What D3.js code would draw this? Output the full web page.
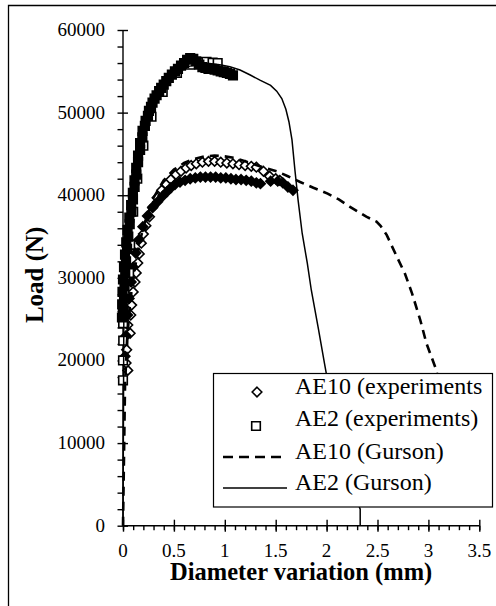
<!DOCTYPE html>
<html>
<head>
<meta charset="utf-8">
<script src="https://cdn.jsdelivr.net/npm/d3@7/dist/d3.min.js"></script>
<style>body { margin: 0; background: #fff; }</style>
</head>
<body>
<svg id="chart" width="496" height="606"></svg>
<script>
// Axis ticks
const xTickValues = [0, 0.5, 1, 1.5, 2, 2.5, 3, 3.5];
const xTickLabels = ["0", "0.5", "1", "1.5", "2", "2.5", "3", "3.5"];
const yTickValues = [0, 10000, 20000, 30000, 40000, 50000, 60000];
const yTickLabels = ["0", "10000", "20000", "30000", "40000", "50000", "60000"];

// Legend entries
const legendLabels = ["AE10 (experiments", "AE2 (experiments)", "AE10 (Gurson)", "AE2 (Gurson)"];

// AE10 specimen, open diamonds: [diameter variation (mm), load (N)]
const ae10ExpOpen = [
  [0.047, 18800], [0.030, 19700], [0.036, 21300], [0.070, 23300], [0.047, 24300],
  [0.076, 25500], [0.085, 26700], [0.100, 28300], [0.118, 29500], [0.130, 30600],
  [0.145, 31800], [0.160, 32900], [0.180, 34200], [0.200, 35300], [0.225, 36300],
  [0.260, 37400], [0.295, 38600], [0.335, 39700], [0.380, 40600], [0.425, 41300],
  [0.470, 41900], [0.520, 42500], [0.570, 42900], [0.620, 43300], [0.670, 43600],
  [0.720, 43800], [0.780, 44000], [0.840, 44100], [0.900, 44100], [0.960, 44000],
  [1.020, 43900], [1.080, 43800], [1.140, 43700], [1.200, 43600], [1.260, 43500],
  [1.310, 43400], [1.380, 42900], [1.440, 42300], [1.500, 42000], [1.540, 41800]
];

// AE10 specimen, filled diamonds
const ae10ExpFilled = [
  [0.020, 20500], [0.030, 23000], [0.045, 25500], [0.060, 27500], [0.080, 29500],
  [0.100, 31300], [0.125, 33000], [0.155, 34600], [0.195, 36200], [0.240, 37500],
  [0.290, 38500], [0.340, 39200], [0.390, 39900], [0.430, 40400], [0.470, 40900],
  [0.510, 41300], [0.560, 41600], [0.610, 41800], [0.660, 42000], [0.710, 42100],
  [0.760, 42200], [0.810, 42200], [0.860, 42200], [0.910, 42200], [0.960, 42100],
  [1.010, 42100], [1.060, 42000], [1.110, 41900], [1.160, 41900], [1.210, 41800],
  [1.260, 41700], [1.310, 41500], [1.350, 41400], [1.450, 41700], [1.520, 41700],
  [1.570, 41500], [1.620, 41000], [1.670, 40600]
];

// AE2 specimen, open squares
const ae2ExpOpen = [
  [0.000, 17600], [0.000, 20000], [0.002, 22400], [0.001, 24500], [0.000, 25700],
  [0.060, 30600], [0.070, 34000], [0.100, 38000], [0.140, 42000], [0.200, 46000],
  [0.280, 49500], [0.390, 52500], [0.530, 54800], [0.660, 55800], [0.760, 56100],
  [0.820, 56150], [0.880, 56050], [0.930, 56000]
];

// AE2 specimen, filled squares
const ae2ExpFilled = [
  [-0.010, 25200], [0.006, 26000], [-0.008, 26800], [0.010, 27500], [-0.005, 28300],
  [0.015, 29000], [0.000, 29800], [0.022, 30500], [0.010, 31300], [0.030, 32000],
  [0.020, 32800], [0.040, 33500], [0.032, 34300], [0.052, 35000], [0.045, 35800],
  [0.066, 36500], [0.062, 37300], [0.082, 38000], [0.080, 38800], [0.098, 39500],
  [0.097, 40300], [0.114, 41000], [0.113, 41800], [0.130, 42500], [0.130, 43300],
  [0.148, 44000], [0.148, 44800], [0.168, 45500], [0.168, 46300], [0.190, 47000],
  [0.192, 47800], [0.215, 48400], [0.222, 49000], [0.245, 49600], [0.255, 50200],
  [0.275, 50700], [0.290, 51200], [0.310, 51700], [0.330, 52100], [0.355, 52600],
  [0.375, 53000], [0.400, 53400], [0.425, 53800], [0.450, 54200], [0.480, 54600],
  [0.510, 55000], [0.540, 55300], [0.570, 55700], [0.600, 56000], [0.630, 56400],
  [0.660, 56600], [0.690, 56500], [0.720, 56200], [0.750, 55800], [0.780, 55500],
  [0.810, 55400], [0.840, 55300], [0.870, 55300], [0.900, 55200], [0.930, 55100],
  [0.960, 55000], [0.990, 54900], [1.020, 54800], [1.050, 54700], [1.080, 54500]
];

// Gurson model predictions
const ae10Gurson = [
  [0, 0], [0.02, 17000], [0.04, 22500], [0.07, 27000], [0.10, 30000], [0.15, 33500],
  [0.20, 36200], [0.30, 39700], [0.40, 41800], [0.50, 43100], [0.60, 43900],
  [0.70, 44400], [0.80, 44700], [0.90, 44800], [1.00, 44700], [1.10, 44500],
  [1.20, 44100], [1.30, 43700], [1.40, 43300], [1.51, 42900], [1.62, 42300],
  [1.74, 41600], [1.87, 40900], [2.01, 40200], [2.12, 39500], [2.23, 38600],
  [2.39, 37400], [2.49, 36800], [2.53, 36300], [2.59, 35200], [2.70, 32300],
  [2.77, 30500], [2.84, 28100], [2.92, 24900], [2.98, 22100], [3.07, 19100],
  [3.18, 14000], [3.28, 8000], [3.34, 3000]
];

const ae2Gurson = [
  [0, 0], [0.005, 15000], [0.008, 25000], [0.018, 29000], [0.036, 33000],
  [0.064, 37000], [0.096, 40000], [0.135, 43000], [0.167, 45000], [0.205, 47000],
  [0.253, 49000], [0.282, 50000], [0.355, 52000], [0.47, 54000], [0.56, 55000],
  [0.65, 55600], [0.75, 55900], [0.85, 55950], [0.95, 55800], [1.05, 55550],
  [1.15, 55150], [1.25, 54550], [1.35, 53900], [1.45, 53300], [1.51, 52600],
  [1.56, 51700], [1.60, 50400], [1.63, 48900], [1.66, 46700], [1.69, 42900],
  [1.72, 39400], [1.76, 35400], [1.81, 31800], [1.85, 28500], [1.92, 23800],
  [1.98, 19600], [2.05, 14800], [2.15, 9000], [2.25, 4600], [2.33, 2000], [2.33, 0]
];

const svg = d3.select("#chart");

const x = d3.scaleLinear().domain([0, 3.5]).range([123, 479.3]);
const y = d3.scaleLinear().domain([0, 60000]).range([525.7, 30]);

// Outer frame (left and top edges)
svg.append("path")
  .attr("d", "M8.5,606 V5.5 H496")
  .attr("fill", "none").attr("stroke", "#000").attr("stroke-width", 1.3);

// X axis: minor ticks, then major ticks
const xAxisG = svg.append("g").attr("transform", `translate(0,${y(0)})`);
xAxisG.append("g")
  .call(d3.axisBottom(x).tickValues(d3.range(0, 3.5001, 0.1)).tickSize(4.5).tickFormat(""))
  .call(g => g.select(".domain").remove());
xAxisG.append("g")
  .call(d3.axisBottom(x).tickValues(xTickValues).tickSize(6).tickFormat(""))
  .call(g => g.selectAll(".tick line").attr("y1", -6));
xAxisG.selectAll("line, path").attr("stroke", "#000").attr("stroke-width", 1.4);
xAxisG.select(".domain").attr("d", `M${x(0)},0H${x(3.5)}`);

// Y axis: minor ticks, then major ticks
const yAxisG = svg.append("g").attr("transform", `translate(${x(0)},0)`);
yAxisG.append("g")
  .call(d3.axisLeft(y).tickValues(d3.range(0, 60001, 2000)).tickSize(5.5).tickFormat(""))
  .call(g => g.select(".domain").remove());
yAxisG.append("g")
  .call(d3.axisLeft(y).tickValues(yTickValues).tickSize(8).tickFormat(""))
  .call(g => g.selectAll(".tick line").attr("x2", 5));
yAxisG.selectAll("line, path").attr("stroke", "#000").attr("stroke-width", 1.4);
yAxisG.select(".domain").attr("d", `M0,${y(0)}V${y(60000)}`);

// All text goes into one plain group, positioned through the scales
const labels = [];
xTickValues.forEach((v, i) => labels.push({ t: xTickLabels[i], x: x(v), y: y(0) + 31, size: 19, anchor: "middle" }));
yTickValues.forEach((v, i) => labels.push({ t: yTickLabels[i], x: x(0) - 18, y: y(v) + 6, size: 19, anchor: "end" }));
labels.push({ t: "Diameter variation (mm)", x: (x(0) + x(3.5)) / 2, y: 580, size: 24.5, anchor: "middle", bold: true });
labels.push({ t: "Load (N)", x: 43, y: (y(0) + y(60000)) / 2 - 3, size: 25, anchor: "middle", bold: true, rotate: true });

svg.selectAll("text.lbl").data(labels).join("text")
  .attr("class", "lbl")
  .attr("x", d => d.rotate ? 0 : d.x)
  .attr("y", d => d.rotate ? 0 : d.y)
  .attr("transform", d => d.rotate ? `translate(${d.x},${d.y}) rotate(-90)` : null)
  .attr("text-anchor", d => d.anchor)
  .style("font-family", d => `"Times New Roman"`)
  .style("font-size", d => d.size + "px")
  .style("font-weight", d => d.bold ? "bold" : "normal")
  .text(d => d.t);

// Marker shapes
const diamondPath = "M0,-4.8L4.8,0L0,4.8L-4.8,0Z";
const squarePath = "M-4.3,-4.3H4.3V4.3H-4.3Z";

function drawMarkers(data, shape, filled) {
  svg.append("g").selectAll("path").data(data).join("path")
    .attr("d", shape)
    .attr("transform", d => `translate(${x(d[0])},${y(d[1])})`)
    .attr("fill", filled ? "#000" : "#fff")
    .attr("stroke", "#000")
    .attr("stroke-width", 1.6);
}

drawMarkers(ae10ExpOpen, diamondPath, false);
drawMarkers(ae10ExpFilled, diamondPath, true);
drawMarkers(ae2ExpOpen, squarePath, false);
drawMarkers(ae2ExpFilled, squarePath, true);

// Gurson curves
const line = d3.line().x(d => x(d[0])).y(d => y(d[1]));
svg.append("path").datum(ae10Gurson)
  .attr("d", line).attr("fill", "none")
  .attr("stroke", "#000").attr("stroke-width", 2.6).attr("stroke-dasharray", "9,6");
svg.append("path").datum(ae2Gurson)
  .attr("d", line).attr("fill", "none")
  .attr("stroke", "#000").attr("stroke-width", 1.5);

// Legend
svg.append("rect")
  .attr("x", 213.5).attr("y", 373.5).attr("width", 279).attr("height", 133.5)
  .attr("fill", "#fff").attr("stroke", "#000").attr("stroke-width", 1.2);
const rowY = [394, 426, 459, 490];
svg.selectAll("text.leg").data(legendLabels).join("text")
  .attr("class", "leg")
  .attr("x", 295).attr("y", (d, i) => rowY[i])
  .style("font-family", d => `"Times New Roman"`)
  .style("font-size", "24px")
  .text(d => d);
svg.append("path").attr("d", diamondPath)
  .attr("transform", "translate(257,392)")
  .attr("fill", "#fff").attr("stroke", "#000").attr("stroke-width", 1.6);
svg.append("path").attr("d", squarePath)
  .attr("transform", "translate(256,426)")
  .attr("fill", "#fff").attr("stroke", "#000").attr("stroke-width", 1.6);
svg.append("line")
  .attr("x1", 223).attr("x2", 287).attr("y1", 457).attr("y2", 457)
  .attr("stroke", "#000").attr("stroke-width", 2.6).attr("stroke-dasharray", "10,6");
svg.append("line")
  .attr("x1", 223).attr("x2", 287).attr("y1", 488).attr("y2", 488)
  .attr("stroke", "#000").attr("stroke-width", 1.5);
</script>
</body>
</html>
